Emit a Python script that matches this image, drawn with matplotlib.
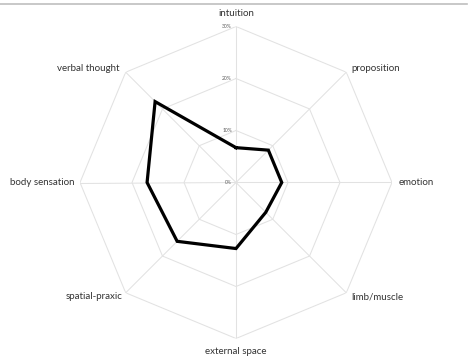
import numpy as np
import matplotlib
matplotlib.use("Agg")
import matplotlib.pyplot as plt
from matplotlib.lines import Line2D

categories = ["intuition", "proposition", "emotion", "limb/muscle",
              "external space", "spatial-praxic", "body sensation", "verbal thought"]
values = [0.067, 0.088, 0.088, 0.081, 0.127, 0.160, 0.171, 0.220]
rticks = [0.0, 0.10, 0.20, 0.30]
rtick_labels = ["0%", "10%", "20%", "30%"]

plt.rcParams['font.family'] = ['Lato', 'DejaVu Sans']

W, H = 470, 359
fig = plt.figure(figsize=(W / 100, H / 100), dpi=100)
cx, cy, R = 236, 182.5, 156
ax = fig.add_axes([(cx - R) / W, (H - cy - R) / H, 2 * R / W, 2 * R / H], projection='polar')
ax.set_theta_zero_location('N')
ax.set_theta_direction(-1)
ax.set_ylim(0, rticks[-1])
ax.grid(False)
ax.spines['polar'].set_visible(False)
ax.set_xticks([])
ax.set_yticks([])
ax.patch.set_alpha(0)

n = len(categories)
theta = np.arange(n) * 2 * np.pi / n
theta_closed = np.append(theta, theta[0])

gc = '#e2e2e2'
for r in rticks[1:]:
    ax.plot(theta_closed, [r] * (n + 1), color=gc, lw=0.75, zorder=1)
for t in theta:
    ax.plot([t, t], [0, rticks[-1]], color=gc, lw=0.75, zorder=1)

vals_closed = values + [values[0]]
ax.plot(theta_closed, vals_closed, color='black', lw=2.3, zorder=3, solid_joinstyle='miter')

for r, lab in zip(rticks, rtick_labels):
    ax.annotate(lab, xy=(0, r), xytext=(-4, 0), textcoords='offset pixels',
                ha='right', va='center', fontsize=3.6, color='#595959')

offsets = [(0, 13, 'center'), (5, 4, 'left'), (7, 0, 'left'), (5, -4, 'left'),
           (0, -13.5, 'center'), (-3, -4, 'right'), (-6, 0, 'right'), (-6, 4, 'right')]
for t, lab, (dx, dy, ha) in zip(theta, categories, offsets):
    ax.annotate(lab, xy=(t, rticks[-1]), xytext=(dx, dy), textcoords='offset pixels',
                ha=ha, va='center', fontsize=7.0, color='#333333', annotation_clip=False)

fig.add_artist(Line2D([0, 467 / W], [1 - 3.5 / H, 1 - 3.5 / H], color='#bfbfbf', lw=1.2,
                      transform=fig.transFigure))

fig.savefig('out.png', dpi=100)
